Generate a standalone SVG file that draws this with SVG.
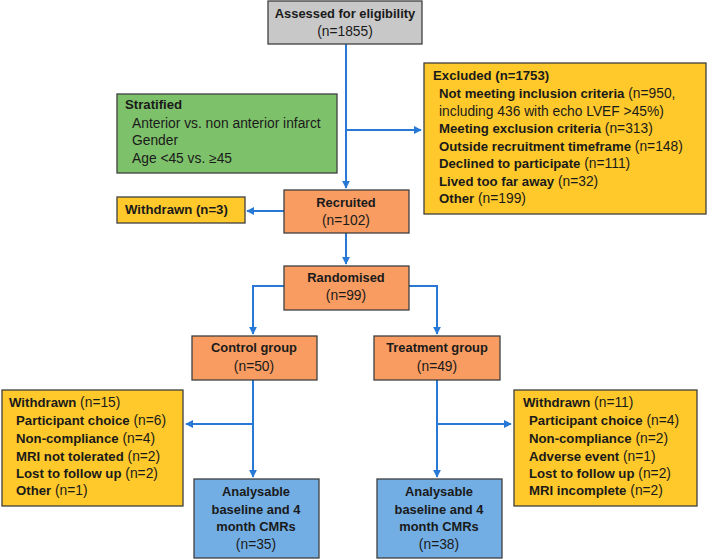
<svg xmlns="http://www.w3.org/2000/svg" width="708" height="560" viewBox="0 0 708 560">
<defs>
<style>
.box{stroke:#3f3f3f;stroke-width:1.3}
.grey{fill:#c8c8c8}.green{fill:#7ec16b}.orange{fill:#f89c62}.yellow{fill:#ffc92b}.blue{fill:#72aee4}
text{font-family:"Liberation Sans",Arial,sans-serif;font-size:13.8px;fill:#1a1a1a}
.b{font-weight:bold;font-size:13.2px}
.h{font-weight:bold;font-size:12.9px}
.c{text-anchor:middle}
.con{fill:none;stroke:#2878d6;stroke-width:2}
</style>
<marker id="ah" viewBox="0 0 10 10" refX="9" refY="5" markerWidth="4" markerHeight="4" orient="auto" markerUnits="strokeWidth">
<path d="M0,0 L10,5 L0,10 z" fill="#2878d6"/>
</marker>
</defs>
<rect width="708" height="560" fill="#ffffff"/>
<g id="connectors">
<path class="con" d="M346,44 V188" marker-end="url(#ah)"/>
<path class="con" d="M346,130 H421" marker-end="url(#ah)"/>
<path class="con" d="M284,211 H247" marker-end="url(#ah)"/>
<path class="con" d="M346,233 V264" marker-end="url(#ah)"/>
<path class="con" d="M284,286 H253 V334" marker-end="url(#ah)"/>
<path class="con" d="M409,286 H437 V334" marker-end="url(#ah)"/>
<path class="con" d="M253,380 V477" marker-end="url(#ah)"/>
<path class="con" d="M253,424 H186" marker-end="url(#ah)"/>
<path class="con" d="M437,380 V477" marker-end="url(#ah)"/>
<path class="con" d="M437,424 H511" marker-end="url(#ah)"/>
</g>
<g id="assessed">
<rect class="box grey" x="268" y="1" width="154" height="43"/>
<text class="h c" x="345" y="18">Assessed for eligibility</text>
<text class="c" x="345" y="36">(n=1855)</text>
</g>
<g id="stratified">
<rect class="box green" x="117" y="94" width="220" height="79"/>
<text class="b" x="125" y="109">Stratified</text>
<text x="132" y="127.5">Anterior vs. non anterior infarct</text>
<text x="132" y="145">Gender</text>
<text x="132" y="162.5">Age &lt;45 vs. ≥45</text>
</g>
<g id="excluded">
<rect class="box yellow" x="424" y="63" width="282" height="151"/>
<text class="b" x="433" y="80">Excluded (n=1753)</text>
<text x="439" y="98"><tspan class="b">Not meeting inclusion criteria</tspan> (n=950,</text>
<text x="439" y="115.5">including 436 with echo LVEF &gt;45%)</text>
<text x="439" y="133"><tspan class="b">Meeting exclusion criteria</tspan> (n=313)</text>
<text x="439" y="150.5"><tspan class="b">Outside recruitment timeframe</tspan> (n=148)</text>
<text x="439" y="168"><tspan class="b">Declined to participate</tspan> (n=111)</text>
<text x="439" y="185.5"><tspan class="b">Lived too far away</tspan> (n=32)</text>
<text x="439" y="203"><tspan class="b">Other</tspan> (n=199)</text>
</g>
<g id="recruited">
<rect class="box orange" x="284" y="190" width="125" height="43"/>
<text class="h c" x="346" y="207">Recruited</text>
<text class="c" x="346" y="225">(n=102)</text>
</g>
<g id="withdrawn3">
<rect class="box yellow" x="117" y="197" width="128" height="26"/>
<text class="b" x="125" y="214">Withdrawn (n=3)</text>
</g>
<g id="randomised">
<rect class="box orange" x="284" y="266" width="125" height="44"/>
<text class="h c" x="346" y="282">Randomised</text>
<text class="c" x="346" y="300">(n=99)</text>
</g>
<g id="control">
<rect class="box orange" x="192" y="336" width="125" height="44"/>
<text class="h c" x="254" y="352">Control group</text>
<text class="c" x="254" y="370.5">(n=50)</text>
</g>
<g id="treatment">
<rect class="box orange" x="374" y="336" width="126" height="44"/>
<text class="h c" x="437" y="352">Treatment group</text>
<text class="c" x="437" y="370.5">(n=49)</text>
</g>
<g id="withdrawn15">
<rect class="box yellow" x="2" y="390" width="181" height="116"/>
<text x="9" y="407"><tspan class="b">Withdrawn</tspan> (n=15)</text>
<text x="16" y="425"><tspan class="b">Participant choice</tspan> (n=6)</text>
<text x="16" y="442.5"><tspan class="b">Non-compliance</tspan> (n=4)</text>
<text x="16" y="460.5"><tspan class="b">MRI not tolerated</tspan> (n=2)</text>
<text x="16" y="478"><tspan class="b">Lost to follow up</tspan> (n=2)</text>
<text x="16" y="495"><tspan class="b">Other</tspan> (n=1)</text>
</g>
<g id="withdrawn11">
<rect class="box yellow" x="514" y="390" width="183" height="116"/>
<text x="523" y="407"><tspan class="b">Withdrawn</tspan> (n=11)</text>
<text x="529" y="425"><tspan class="b">Participant choice</tspan> (n=4)</text>
<text x="529" y="442.5"><tspan class="b">Non-compliance</tspan> (n=2)</text>
<text x="529" y="460.5"><tspan class="b">Adverse event</tspan> (n=1)</text>
<text x="529" y="478"><tspan class="b">Lost to follow up</tspan> (n=2)</text>
<text x="529" y="495"><tspan class="b">MRI incomplete</tspan> (n=2)</text>
</g>
<g id="analysable-control">
<rect class="box blue" x="194" y="479" width="125" height="79"/>
<text class="h c" x="256" y="496">Analysable</text>
<text class="h c" x="256" y="514">baseline and 4</text>
<text class="h c" x="256" y="531">month CMRs</text>
<text class="c" x="256" y="549">(n=35)</text>
</g>
<g id="analysable-treatment">
<rect class="box blue" x="377" y="479" width="125" height="79"/>
<text class="h c" x="439" y="496">Analysable</text>
<text class="h c" x="439" y="514">baseline and 4</text>
<text class="h c" x="439" y="531">month CMRs</text>
<text class="c" x="439" y="549">(n=38)</text>
</g>
</svg>
